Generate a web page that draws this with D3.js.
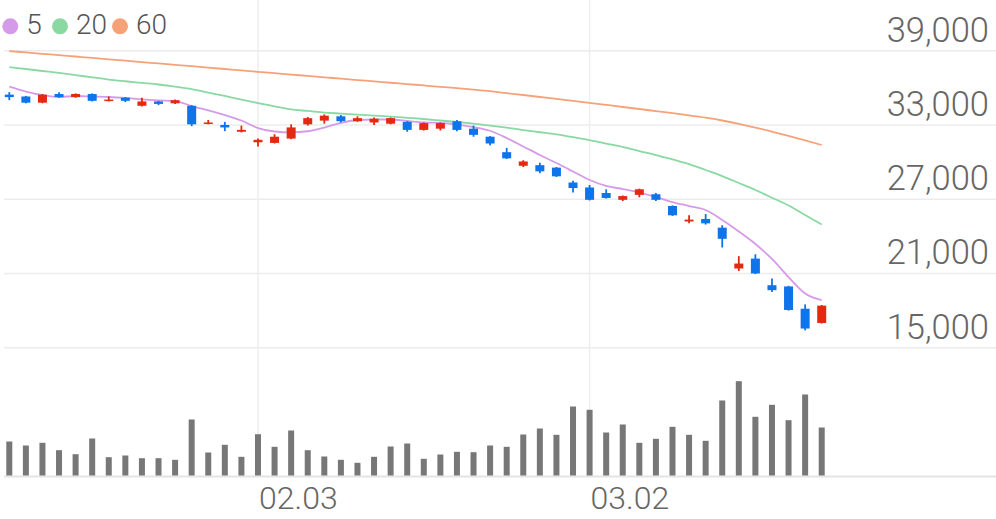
<!DOCTYPE html>
<html>
<head>
<meta charset="utf-8">
<script src="https://cdn.jsdelivr.net/npm/d3@7/dist/d3.min.js"></script>
<style>
  html, body { margin: 0; padding: 0; background: #fff; }
  svg { display: block; font-family: Roboto, "Noto Sans", sans-serif; }
</style>
</head>
<body>
<svg id="chart" width="996" height="519"></svg>
<script>
// ---------- data ----------
const dates = ["01.09","01.10","01.13","01.14","01.15","01.16","01.17","01.20","01.21","01.22",
  "01.23","01.28","01.29","01.30","01.31","02.03","02.04","02.05","02.06","02.07",
  "02.10","02.11","02.12","02.13","02.14","02.17","02.18","02.19","02.20","02.21",
  "02.24","02.25","02.26","02.27","02.28","03.02","03.03","03.04","03.05","03.06",
  "03.09","03.10","03.11","03.12","03.13","03.16","03.17","03.18","03.19","03.20"];

const open  = [35450,35300,34800,35500,35250,35500,34950,35200,34550,34900,
  34750,34550,33100,33000,32450,31600,31550,31900,33050,33350,
  33700,33300,33200,33100,33250,32600,32700,33300,32700,32050,
  30800,29700,29750,29550,28350,27950,27500,26950,27350,27400,
  26450,25200,25400,24700,21400,22200,20050,19950,18150,17000];
const high  = [35650,35350,35500,35650,35550,35550,35300,35250,35200,34950,
  35050,34600,33400,33250,32950,31900,32250,33050,33650,33850,
  33800,33700,33600,33600,33300,33200,33200,33400,32950,32100,
  31150,30150,29950,29600,28500,28150,27800,27300,27850,27500,
  26500,25700,25800,24900,22400,22550,20600,20000,18500,18450];
const low   = [35000,34750,34750,35200,35200,34900,34900,34850,34500,34600,
  34700,32900,33050,32500,32400,31250,31500,31850,32950,33100,
  33200,33250,33000,33050,32450,32550,32550,32500,32050,31350,
  30250,29600,29100,28800,27550,26900,27050,26850,27150,26850,
  25650,25050,24950,23100,21200,20950,19500,18000,16400,16950];
const close = [35250,34800,35450,35250,35500,34950,35050,34950,34900,34700,
  35000,33050,33200,32800,32600,31800,32050,32800,33550,33750,
  33300,33550,33500,33550,32600,33150,33150,32600,32200,31500,
  30300,30050,29250,28850,27900,26950,27100,27250,27800,26950,
  25700,25350,25050,23800,21800,21000,19650,18050,16550,18400];

const volume = [340000,300000,327000,253000,213000,370000,183000,200000,173000,173000,
  157000,560000,230000,307000,187000,413000,287000,450000,253000,190000,
  157000,127000,187000,290000,320000,167000,210000,237000,233000,300000,
  287000,410000,470000,407000,690000,657000,430000,510000,327000,367000,
  487000,407000,347000,750000,943000,587000,707000,553000,810000,480000];

const ma5  = [36090,35700,35420,35260,35340,35300,35260,35180,35070,34990,
  34930,34530,34170,33800,33360,32750,32470,32400,32490,32790,
  33160,33400,33440,33440,33320,33200,33160,33030,32830,32530,
  31940,31260,30570,29920,29240,28550,28070,27820,27540,27180,
  26770,26450,26130,25320,24390,23380,22170,20710,19380,18850];
const ma20 = [37680,37520,37360,37200,37020,36850,36670,36530,36400,36270,
  36090,35900,35620,35340,35050,34770,34510,34250,34130,34000,
  33920,33840,33760,33680,33580,33480,33360,33240,33100,32950,
  32780,32590,32410,32230,32010,31780,31500,31220,30890,30570,
  30210,29840,29360,28870,28310,27740,27120,26490,25720,24950];
const ma60 = [38970,38860,38750,38640,38530,38420,38300,38190,38080,37970,
  37860,37750,37630,37520,37410,37290,37180,37070,36960,36850,
  36740,36630,36520,36410,36300,36190,36080,35980,35860,35730,
  35570,35420,35260,35110,34950,34790,34620,34450,34290,34120,
  33950,33780,33590,33360,33090,32790,32470,32120,31760,31380];

const priceTicks = [15000, 21000, 27000, 33000, 39000];
const dateTicks = ["02.03", "03.02"];
const legendLabels = ["5", "20", "60"];

// ---------- styles ----------
const UP = "#e3290f", DOWN = "#0f73ea", VOL = "#777777";
const maColors = ["#d59be8", "#8ad9a3", "#f6a279"];

const svg = d3.select("#chart");
const W = 996;

const x = d3.scaleBand().domain(dates).range([1, 830]);
const cx = d => x(d) + x.bandwidth() / 2;
const y = d3.scaleLinear().domain([15000, 39000]).range([347.7, 50.7]);
const yv = d3.scaleLinear().domain([0, 1000000]).range([475.5, 375.5]);

// vertical grid lines
svg.append("g").selectAll("line").data(dateTicks).join("line")
  .attr("x1", d => cx(d)).attr("x2", d => cx(d))
  .attr("y1", 0).attr("y2", 476)
  .attr("stroke", "#eeeeee").attr("stroke-width", 1.5);

// horizontal grid lines
svg.append("g").selectAll("line").data(priceTicks).join("line")
  .attr("x1", 4).attr("x2", W)
  .attr("y1", d => y(d)).attr("y2", d => y(d))
  .attr("stroke", "#ececec").attr("stroke-width", 1.5);

// price labels
svg.append("g").selectAll("text").data(priceTicks).join("text")
  .attr("x", 989).attr("y", d => y(d) - 9)
  .attr("text-anchor", "end")
  .attr("font-size", 34.5).attr("font-weight", 300)
  .attr("fill", "#666")
  .text(d => d3.format(",")(d));

// volume baseline
svg.append("line").attr("x1", 4).attr("x2", W)
  .attr("y1", 476.5).attr("y2", 476.5)
  .attr("stroke", "#e4e4e4").attr("stroke-width", 2);

// volume bars
svg.append("g").selectAll("rect").data(dates).join("rect")
  .attr("x", d => cx(d) - 3).attr("width", 6)
  .attr("y", (d, i) => yv(volume[i]))
  .attr("height", (d, i) => yv(0) - yv(volume[i]))
  .attr("fill", VOL);

// date labels
svg.append("g").selectAll("text").data(dateTicks).join("text")
  .attr("x", d => cx(d) + 1).attr("y", 508.5)
  .attr("font-size", 32).attr("font-weight", 300)
  .attr("fill", "#666")
  .text(d => d);

// moving averages
const line = d3.line().x((v, i) => cx(dates[i])).y(v => y(v)).curve(d3.curveMonotoneX);
[ma5, ma20, ma60].forEach((arr, k) => {
  svg.append("path").datum(arr).attr("d", line)
    .attr("fill", "none").attr("stroke", maColors[k]).attr("stroke-width", 1.8);
});

// candles
const cg = svg.append("g").selectAll("g").data(dates).join("g");
cg.append("line")
  .attr("x1", d => cx(d)).attr("x2", d => cx(d))
  .attr("y1", (d, i) => y(high[i])).attr("y2", (d, i) => y(low[i]))
  .attr("stroke", (d, i) => close[i] >= open[i] ? UP : DOWN)
  .attr("stroke-width", 1.8);
cg.append("rect")
  .attr("x", d => cx(d) - 4.5).attr("width", 9)
  .attr("y", (d, i) => y(Math.max(open[i], close[i])))
  .attr("height", (d, i) => Math.max(1.5, Math.abs(y(open[i]) - y(close[i]))))
  .attr("fill", (d, i) => close[i] >= open[i] ? UP : DOWN);

// legend
const lx = [10.3, 60, 120];
const lg = svg.append("g");
legendLabels.forEach((t, k) => {
  lg.append("circle").attr("cx", lx[k]).attr("cy", 26.3).attr("r", 8).attr("fill", maColors[k]);
  lg.append("text").attr("x", lx[k] + 16).attr("y", 34.3)
    .attr("font-size", 28).attr("font-weight", 300).attr("fill", "#555").text(t);
});
</script>
</body>
</html>
